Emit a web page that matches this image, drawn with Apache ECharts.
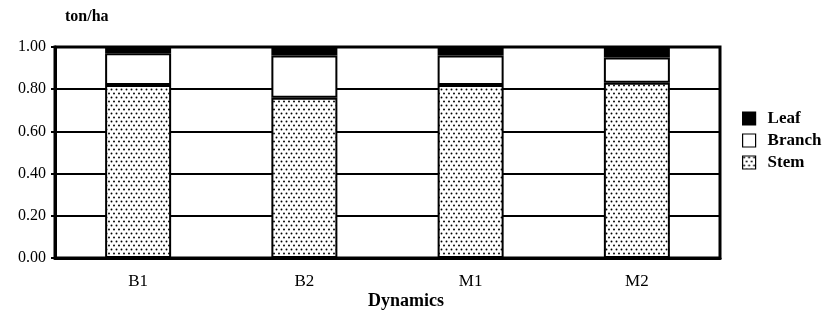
<!DOCTYPE html>
<html>
<head>
<meta charset="utf-8">
<script src="https://cdn.jsdelivr.net/npm/echarts@6/dist/echarts.min.js"></script>
<style>
html,body{margin:0;padding:0;background:#fff;}
#main{width:823px;height:319px;}
</style>
</head>
<body>
<div id="main"></div>
<script>
// data
var categories = ["B1", "B2", "M1", "M2"];
var stemValues = [0.82, 0.76, 0.82, 0.83];
var branchValues = [0.15, 0.20, 0.14, 0.12];
var leafValues = [0.03, 0.04, 0.04, 0.05];
var yTicks = [0, 0.2, 0.4, 0.6, 0.8, 1.0];

var FONT = "'Liberation Serif', 'DejaVu Serif', serif";

// dotted fill for the stem bars
function makeDots() {
    var c = document.createElement("canvas");
    c.width = 10; c.height = 8;
    var ctx = c.getContext("2d");
    ctx.fillStyle = "#fff";
    ctx.fillRect(0, 0, 10, 8);
    ctx.fillStyle = "#000";
    var pts = [[1.5, 1.5], [6.5, 1.5], [4, 5.5], [9, 5.5]];
    for (var i = 0; i < pts.length; i++) {
        ctx.beginPath();
        ctx.arc(pts[i][0], pts[i][1], 0.95, 0, Math.PI * 2);
        ctx.fill();
    }
    return c;
}
var dots = makeDots();

var chart = echarts.init(document.getElementById("main"));
var barStyle = function (fill) {
    return {color: fill, borderColor: "#000", borderWidth: 2};
};

chart.setOption({
    backgroundColor: "#fff",
    animation: false,
    grid: {
        left: 55, right: 103, top: 47, bottom: 61,
        show: true, borderColor: "#000", borderWidth: 3, backgroundColor: "#fff"
    },
    legend: {
        orient: "vertical",
        left: 737, top: 105,
        itemWidth: 13, itemHeight: 13, itemGap: 5,
        icon: "rect",
        data: ["Leaf", "Branch", "Stem"],
        itemStyle: {borderColor: "#000", borderWidth: 1.2},
        textStyle: {fontFamily: FONT, fontSize: 17, fontWeight: "bold", color: "#000", padding: [0, 0, 0, 7]}
    },
    xAxis: {
        type: "category",
        data: categories,
        axisLine: {lineStyle: {color: "#000", width: 3}},
        axisTick: {show: false},
        axisLabel: {fontFamily: FONT, fontSize: 17, color: "#000", margin: 15}
    },
    yAxis: {
        type: "value",
        min: yTicks[0], max: yTicks[yTicks.length - 1], interval: 0.2,
        name: "ton/ha",
        nameLocation: "end",
        nameGap: 22,
        nameTextStyle: {fontFamily: FONT, fontSize: 16, fontWeight: "bold", color: "#000", align: "left", padding: [0, 0, 0, 10]},
        axisLine: {show: true, lineStyle: {color: "#000", width: 3}},
        axisTick: {show: true, length: 4, lineStyle: {color: "#000", width: 2}},
        axisLabel: {
            fontFamily: FONT, fontSize: 16, color: "#000", margin: 9,
            formatter: function (v) { return v.toFixed(2); }
        },
        splitLine: {show: true, lineStyle: {color: "#000", width: 2}}
    },
    graphic: [{
        type: "text",
        left: 368, top: 292,
        style: {text: "Dynamics", fontFamily: FONT, fontSize: 18, fontWeight: "bold", fill: "#000"}
    }],
    series: [
        {name: "Stem", type: "bar", stack: "all", barWidth: 66, data: stemValues,
            itemStyle: barStyle({image: dots, repeat: "repeat"})},
        {name: "Branch", type: "bar", stack: "all", barWidth: 66, data: branchValues,
            itemStyle: barStyle("#fff")},
        {name: "Leaf", type: "bar", stack: "all", barWidth: 66, data: leafValues,
            itemStyle: barStyle("#000")}
    ]
});
</script>
</body>
</html>
